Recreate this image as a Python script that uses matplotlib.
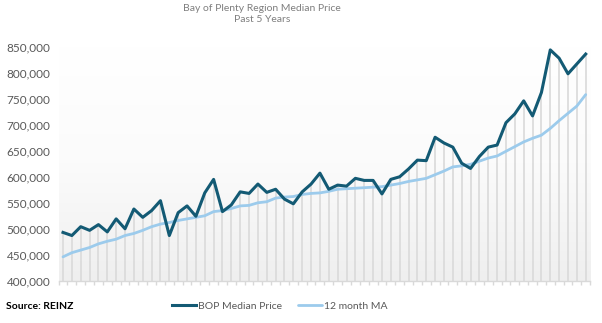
import numpy as np
import matplotlib.pyplot as plt
from matplotlib.colors import LinearSegmentedColormap

# monthly values, oldest first (60 months)
bop_median = [
    494000, 488000, 505000, 498000, 509000, 495000, 520000, 501000, 539000, 523000,
    536000, 555000, 488000, 532000, 545000, 525000, 570000, 596000, 534000, 547000,
    572000, 569000, 587000, 571000, 577000, 558000, 549000, 572000, 587000, 608000,
    577000, 585000, 583000, 598000, 594000, 594000, 568000, 596000, 601000, 616000,
    633000, 632000, 677000, 666000, 658000, 627000, 617000, 640000, 658000, 662000,
    705000, 722000, 747000, 718000, 763000, 845000, 829000, 799000, 818000, 837000,
]
ma_12 = [
    447000, 455000, 460000, 465000, 472000, 477000, 481000, 488000, 492000, 498000,
    505000, 510000, 513000, 517000, 520000, 523000, 526000, 534000, 536000, 540000,
    545000, 546000, 551000, 553000, 560000, 562000, 563000, 567000, 569000, 570000,
    573000, 577000, 578000, 579000, 580000, 581000, 582000, 585000, 588000, 592000,
    595000, 598000, 605000, 612000, 620000, 622000, 625000, 631000, 637000, 641000,
    650000, 659000, 668000, 675000, 681000, 694000, 709000, 723000, 737000, 759000,
]
y_ticks = [400000, 450000, 500000, 550000, 600000, 650000, 700000, 750000, 800000, 850000]

DARK = "#135a74"
LIGHT = "#9ccbec"
LABEL = "#595959"

plt.rcParams["font.family"] = ["Lato", "DejaVu Sans"]

fig = plt.figure(figsize=(6.02, 3.23), dpi=100)
ax = fig.add_axes([0.0973, 0.1291, 0.883, 0.7245])

x = np.arange(len(bop_median))
ax.set_xlim(-0.5, len(x) - 0.5)
ax.set_ylim(y_ticks[0], y_ticks[-1])

# soft white-to-grey background inside the plot area
grad = LinearSegmentedColormap.from_list("bg", ["#ffffff", "#fbfbfb", "#efefef"])
ax.imshow(np.linspace(0, 1, 256).reshape(-1, 1), aspect="auto", cmap=grad,
          extent=[-0.5, len(x) - 0.5, y_ticks[0], y_ticks[-1]], zorder=0)

ax.vlines(x, y_ticks[0], bop_median, color="#dcdcdc", lw=1.3, zorder=1)
ax.plot(x, ma_12, color=LIGHT, lw=2.0, label="12 month MA", zorder=2,
        solid_capstyle="round")
ax.plot(x, bop_median, color=DARK, lw=2.2, label="BOP Median Price", zorder=3)

for side in ["top", "right", "left"]:
    ax.spines[side].set_visible(False)
ax.spines["bottom"].set_color("#d9d9d9")
ax.spines["bottom"].set_linewidth(1.0)

ax.set_xticks(np.arange(len(x) + 1) - 0.5)
ax.set_xticklabels([])
ax.tick_params(axis="x", length=3, color="#d9d9d9", width=1.0)

ax.set_yticks(y_ticks)
ax.set_yticklabels([f"{v:,}" for v in y_ticks])
ax.tick_params(axis="y", length=0, pad=6, labelsize=8.5, labelcolor=LABEL)

fig.text(0.435, 0.957, "Bay of Plenty Region Median Price\nPast 5 Years",
         ha="center", va="center", fontsize=7.5, color="#7f7f7f", linespacing=1.2)

handles, labels = ax.get_legend_handles_labels()
fig.legend(handles[::-1], labels[::-1], loc="center", bbox_to_anchor=(0.465, 0.052),
           ncol=2, frameon=False, fontsize=7.5, labelcolor=LABEL,
           handlelength=2.3, handletextpad=0.2, columnspacing=1.5)

fig.text(0.01, 0.05, "Source: REINZ", ha="left", va="center", fontsize=7.5,
         fontweight="bold", color="black")

fig.savefig("out.png", dpi=100)
